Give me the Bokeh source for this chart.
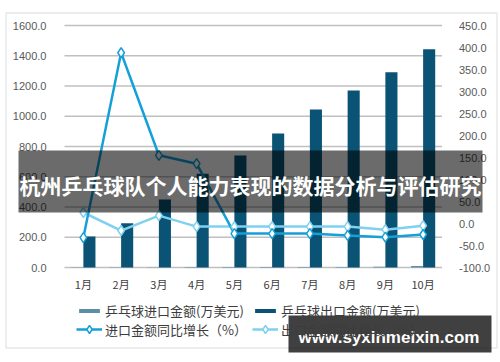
from bokeh.plotting import figure
from bokeh.models import (Range1d, LinearAxis, FixedTicker, NumeralTickFormatter,
                          Legend, LegendItem, BoxAnnotation, Label, ColumnDataSource)
from bokeh.transform import dodge
from bokeh.embed import file_html
from bokeh.resources import INLINE

months = ["1月", "2月", "3月", "4月", "5月", "6月", "7月", "8月", "9月", "10月"]
import_amount = [1, 1, 1, 3, 4, 4, 4, 4, 5, 10]
export_amount = [205, 293, 450, 620, 740, 886, 1045, 1170, 1291, 1443]
import_growth = [-32, 388, 155, 136, -23, -23, -23, -27, -31, -25]
export_growth = [25, -16, 18, -7, -7, -7, -7, -7, -14, -5]
left_ticks = [0, 200, 400, 600, 800, 1000, 1200, 1400, 1600]
right_ticks = [-100, -50, 0, 50, 100, 150, 200, 250, 300, 350, 400, 450]

series_names = ["乒乓球进口金额(万美元)", "乒乓球出口金额(万美元)",
                "进口金额同比增长（%）", "出口金额同比增长（%）"]
banner_text = "杭州乒乓球队个人能力表现的数据分析与评估研究"
watermark_text = "www.syxinmeixin.com"

C_IMP_BAR = "#5d8ea8"
C_EXP_BAR = "#0b5374"
C_IMP_LINE = "#16a0d8"
C_EXP_LINE = "#7fd1ef"
C_GRID = "#c0c0c0"

W, H = 500, 362
# plot area in canvas pixels (layout only)
PX_L, PX_R, PX_T, PX_B = 64.0, 441.5, 25.0, 267.0

n = len(months)
pos = list(range(1, n + 1))
x_lo, x_hi = 0.5, n + 0.5
ppx = (PX_R - PX_L) / (x_hi - x_lo)
x_start = x_lo - PX_L / ppx
x_end = x_hi + (W - PX_R) / ppx

y_lo, y_hi = left_ticks[0], left_ticks[-1]
ppy = (PX_B - PX_T) / (y_hi - y_lo)
y_start = y_lo - (H - PX_B) / ppy
y_end = y_hi + PX_T / ppy

r_lo, r_hi = right_ticks[0], right_ticks[-1]
ppr = (PX_B - PX_T) / (r_hi - r_lo)
r_start = r_lo - (H - PX_B) / ppr
r_end = r_hi + PX_T / ppr

src = ColumnDataSource(dict(pos=pos, month=months, imp=import_amount, exp=export_amount,
                            ig=import_growth, eg=export_growth))

p = figure(x_range=Range1d(x_start, x_end), y_range=Range1d(y_start, y_end),
           width=W, height=H, output_backend="svg", toolbar_location=None,
           min_border=0, x_axis_location=None, y_axis_location=None)
p.outline_line_color = None
p.background_fill_color = "white"
p.border_fill_color = "white"
p.xgrid.visible = False
p.ygrid.visible = False
p.extra_y_ranges = {"pct": Range1d(r_start, r_end)}


def style_axis(ax, font, color, standoff):
    ax.axis_line_color = None
    ax.major_tick_line_color = None
    ax.minor_tick_line_color = None
    ax.major_label_text_font = font
    ax.major_label_text_font_size = "11px"
    ax.major_label_text_color = color
    ax.major_label_standoff = standoff


lax = LinearAxis(ticker=FixedTicker(ticks=left_ticks),
                 formatter=NumeralTickFormatter(format="0.0"), fixed_location=x_lo)
style_axis(lax, "Liberation Sans", "#595959", 12)
p.add_layout(lax, "left")

rax = LinearAxis(y_range_name="pct", ticker=FixedTicker(ticks=right_ticks),
                 formatter=NumeralTickFormatter(format="0.0"), fixed_location=x_hi)
style_axis(rax, "Liberation Sans", "#595959", 11)
p.add_layout(rax, "right")

bax = LinearAxis(ticker=FixedTicker(ticks=pos), fixed_location=y_lo,
                 major_label_overrides={k: m for k, m in zip(pos, months)})
style_axis(bax, "Noto Sans CJK SC", "#404040", 2)
p.add_layout(bax, "below")

# horizontal grid lines over the plot area
p.segment(x0=[x_lo] * len(left_ticks), x1=[x_hi] * len(left_ticks),
          y0=left_ticks, y1=left_ticks, line_color=C_GRID, line_width=1.5)

r_imp = p.vbar(x=dodge("pos", -0.16), top="imp", width=0.32,
               source=src, fill_color=C_IMP_BAR, line_color=None)
r_exp = p.vbar(x=dodge("pos", 0.16), top="exp", width=0.32,
               source=src, fill_color=C_EXP_BAR, line_color=None)

l_exp = p.line(x="pos", y="eg", y_range_name="pct", source=src,
               line_color=C_EXP_LINE, line_width=2.5)
l_imp = p.line(x="pos", y="ig", y_range_name="pct", source=src,
               line_color=C_IMP_LINE, line_width=2.5)
s_exp = p.scatter(x="pos", y="eg", y_range_name="pct", source=src, marker="diamond",
                  size=10, fill_color="white", line_color=C_EXP_LINE, line_width=1.5)
s_imp = p.scatter(x="pos", y="ig", y_range_name="pct", source=src, marker="diamond",
                  size=10, fill_color="white", line_color=C_IMP_LINE, line_width=1.5)


def make_legend(items, loc, glyph_h):
    lg = Legend(items=items, location=loc, orientation="horizontal", ncols=2)
    lg.label_text_font = "Noto Sans CJK SC"
    lg.label_text_font_size = "13px"
    lg.label_text_color = "#3c3c3c"
    lg.glyph_width = 26
    lg.glyph_height = glyph_h
    lg.label_height = 18
    lg.label_width = 145
    lg.label_standoff = 3
    lg.spacing = 2
    lg.padding = 0
    lg.margin = 0
    lg.border_line_color = None
    lg.background_fill_alpha = 0
    return lg


legend_bars = make_legend([
    LegendItem(label=series_names[0], renderers=[r_imp]),
    LegendItem(label=series_names[1], renderers=[r_exp]),
], (76, 42), 5)
legend_lines = make_legend([
    LegendItem(label=series_names[2], renderers=[l_imp, s_imp]),
    LegendItem(label=series_names[3], renderers=[l_exp, s_exp]),
], (76, 23), 20)
p.add_layout(legend_bars, "center")
p.add_layout(legend_lines, "center")


def canvas_box(l, r, t, b, **kw):
    return BoxAnnotation(left=l, right=r, top=t, bottom=b,
                         left_units="canvas", right_units="canvas",
                         top_units="canvas", bottom_units="canvas", **kw)


# outer frame
p.add_layout(canvas_box(5.5, 496.5, 12.5, 347.5, fill_alpha=0,
                        line_color="#b4b4b4", line_width=1.5))
# banner
p.add_layout(canvas_box(18, 482, 150, 212, fill_color="black", fill_alpha=0.58,
                        line_color=None))
p.add_layout(Label(x=250, y=184, x_units="canvas", y_units="canvas", text=banner_text,
                   text_font="Noto Sans CJK SC", text_font_style="bold",
                   text_font_size="21px", text_color="white",
                   text_align="center", text_baseline="middle"))
# watermark
p.add_layout(canvas_box(288, 491, 315, 352, fill_color="black", fill_alpha=0.75,
                        line_color=None))
p.add_layout(Label(x=388.5, y=337, x_units="canvas", y_units="canvas", text=watermark_text,
                   text_font="Liberation Sans", text_font_style="bold",
                   text_font_size="17px", text_color="white",
                   text_align="center", text_baseline="middle"))

open("out.html", "w").write(file_html(p, INLINE))
